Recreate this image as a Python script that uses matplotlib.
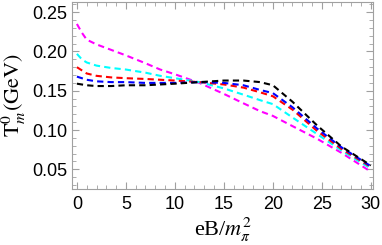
import numpy as np
import matplotlib.pyplot as plt

plt.rcParams['mathtext.fontset'] = 'stix'

# eB / m_pi^2 sample points
eb = [0, 0.5, 1, 2, 3.5, 5, 7, 8.5, 10, 12.5, 15, 17, 18.7, 20, 22, 24.5, 27, 30]

t_magenta = [0.235, 0.224, 0.215, 0.209, 0.202, 0.195, 0.185, 0.177, 0.171, 0.160, 0.146,
             0.134, 0.124, 0.118, 0.105, 0.089, 0.071, 0.047]
t_cyan = [0.197, 0.190, 0.186, 0.182, 0.179, 0.177, 0.173, 0.169, 0.166, 0.161, 0.153,
          0.145, 0.138, 0.133, 0.116, 0.095, 0.074, 0.051]
t_red = [0.180, 0.176, 0.172, 0.169, 0.167, 0.166, 0.165, 0.164, 0.163, 0.161, 0.158,
         0.154, 0.148, 0.143, 0.126, 0.099, 0.076, 0.053]
t_blue = [0.168, 0.166, 0.164, 0.162, 0.161, 0.161, 0.160, 0.160, 0.160, 0.161, 0.160,
          0.157, 0.151, 0.147, 0.129, 0.102, 0.078, 0.054]
t_black = [0.159, 0.158, 0.157, 0.156, 0.156, 0.157, 0.157, 0.158, 0.159, 0.161, 0.163,
           0.163, 0.161, 0.157, 0.136, 0.106, 0.079, 0.055]

series = [(t_magenta, '#FF00FF'), (t_cyan, '#00FFFF'), (t_red, '#FF0000'),
          (t_blue, '#0000FF'), (t_black, '#000000')]

fig = plt.figure(figsize=(3.82, 2.45), dpi=100)
ax = fig.add_axes([0.1885, 0.2286, 0.7875, 0.7634])

for vals, col in series:
    ax.plot(eb, vals, color=col, lw=1.5, ls=(0, (3, 2)))

ax.set_xlim(-0.5, 30.2)
ax.set_ylim(0.025, 0.263)
ax.set_xticks(np.arange(0, 31, 5))
ax.set_xticks(np.arange(0, 31, 1), minor=True)
ax.set_yticks([0.05, 0.10, 0.15, 0.20, 0.25])
ax.set_yticks(np.arange(0.03, 0.261, 0.01), minor=True)
ax.set_yticklabels(['0.05', '0.10', '0.15', '0.20', '0.25'])

for sp in ax.spines.values():
    sp.set_color('#a0a0a0')
ax.tick_params(which='both', direction='in', top=True, right=True, color='#a0a0a0',
               labelsize=13, labelfontfamily='Liberation Sans')
ax.tick_params(which='major', length=5, width=0.8)
ax.tick_params(which='minor', length=3, width=0.6)
ax.tick_params(axis='x', pad=5)

ax.set_xlabel(r'eB/$m_\pi^2$', fontsize=16, family='Liberation Serif', labelpad=2)
ax.set_ylabel(r'$\mathrm{T}_m^0\mathrm{(GeV)}$', fontsize=16, labelpad=3)

fig.savefig('out.png', dpi=100)
